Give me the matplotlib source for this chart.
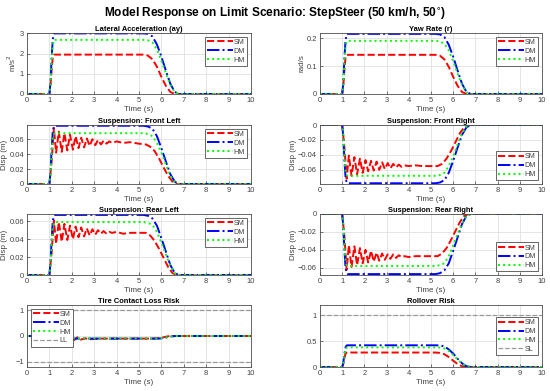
import matplotlib
matplotlib.use('Agg')
import matplotlib.pyplot as plt
from matplotlib.ticker import FuncFormatter

plt.rcParams['font.family'] = ['Liberation Sans', 'DejaVu Sans']

# time points for the smooth responses (step at 1 s, release around 5.3 s)
t_step = [0, 1.0, 1.05, 1.1, 1.15, 1.2, 1.25, 5.2, 5.4, 5.6, 5.8, 6.0, 6.2, 6.4, 6.6, 6.8, 10]

# lateral acceleration (m/s^2)
ay_dm = [0, 0, 0.6, 1.8, 2.7, 2.98, 3.0, 3.0, 2.98, 2.85, 2.45, 1.85, 1.15, 0.5, 0.1, 0, 0]
ay_hm = [0, 0, 0.55, 1.6, 2.4, 2.66, 2.68, 2.68, 2.66, 2.55, 2.2, 1.65, 1.03, 0.45, 0.09, 0, 0]
ay_sm = [0, 0, 0.45, 1.2, 1.8, 1.94, 1.95, 1.95, 1.9, 1.72, 1.35, 0.85, 0.4, 0.1, 0, 0, 0]

# yaw rate (rad/s)
r_dm = [0, 0, 0.04, 0.13, 0.19, 0.213, 0.215, 0.215, 0.213, 0.204, 0.176, 0.133, 0.083, 0.036, 0.007, 0, 0]
r_hm = [0, 0, 0.035, 0.115, 0.17, 0.188, 0.19, 0.19, 0.188, 0.18, 0.156, 0.117, 0.073, 0.032, 0.006, 0, 0]
r_sm = [0, 0, 0.03, 0.086, 0.13, 0.139, 0.14, 0.14, 0.137, 0.124, 0.097, 0.061, 0.029, 0.007, 0, 0, 0]

# suspension, smooth models (m)
fl_dm = [0, 0, 0.016, 0.047, 0.07, 0.077, 0.078, 0.078, 0.077, 0.074, 0.064, 0.048, 0.03, 0.013, 0.003, 0, 0]
fl_hm = [0, 0, 0.014, 0.041, 0.061, 0.067, 0.068, 0.068, 0.067, 0.064, 0.055, 0.042, 0.026, 0.011, 0.002, 0, 0]
fr_dm = [0, 0, -0.016, -0.047, -0.07, -0.077, -0.078, -0.078, -0.077, -0.074, -0.064, -0.048, -0.03, -0.013, -0.003, 0, 0]
fr_hm = [0, 0, -0.014, -0.041, -0.061, -0.067, -0.068, -0.068, -0.067, -0.064, -0.055, -0.042, -0.026, -0.011, -0.002, 0, 0]
rl_dm = [0, 0, 0.014, 0.04, 0.06, 0.066, 0.067, 0.067, 0.066, 0.063, 0.055, 0.041, 0.026, 0.011, 0.002, 0, 0]
rl_hm = [0, 0, 0.012, 0.035, 0.053, 0.058, 0.059, 0.059, 0.058, 0.056, 0.048, 0.036, 0.023, 0.01, 0.002, 0, 0]
rr_dm = [0, 0, -0.014, -0.04, -0.06, -0.066, -0.067, -0.067, -0.066, -0.063, -0.055, -0.041, -0.026, -0.011, -0.002, 0, 0]
rr_hm = [0, 0, -0.012, -0.035, -0.052, -0.057, -0.058, -0.058, -0.057, -0.055, -0.047, -0.035, -0.022, -0.01, -0.002, 0, 0]

# suspension, simple model (oscillating)
t_osc = [0, 1.0, 1.1, 1.2, 1.3, 1.42, 1.55, 1.67, 1.8, 1.92, 2.05, 2.17, 2.3, 2.42, 2.55, 2.67,
         2.8, 2.92, 3.05, 3.17, 3.3, 3.42, 3.55, 3.67, 3.8, 4.0, 4.3, 4.6, 5.0, 5.3, 5.5, 5.7,
         5.9, 6.1, 6.3, 6.5, 6.7, 10]
fl_sm = [0, 0, 0.03, 0.075, 0.042, 0.07, 0.043, 0.068, 0.045, 0.066, 0.046, 0.064, 0.048, 0.062,
         0.049, 0.061, 0.051, 0.06, 0.052, 0.059, 0.053, 0.058, 0.054, 0.057, 0.055, 0.057, 0.055,
         0.056, 0.054, 0.053, 0.05, 0.044, 0.034, 0.022, 0.011, 0.003, 0, 0]
fr_sm = [0, 0, -0.03, -0.072, -0.041, -0.068, -0.043, -0.066, -0.045, -0.064, -0.047, -0.062,
         -0.048, -0.061, -0.049, -0.06, -0.05, -0.059, -0.051, -0.058, -0.052, -0.057, -0.053,
         -0.056, -0.054, -0.055, -0.054, -0.055, -0.055, -0.055, -0.052, -0.045, -0.035, -0.023,
         -0.011, -0.003, 0, 0]
rl_sm = [0, 0, 0.025, 0.061, 0.035, 0.059, 0.037, 0.057, 0.039, 0.055, 0.04, 0.054, 0.042, 0.053,
         0.043, 0.052, 0.044, 0.051, 0.045, 0.05, 0.046, 0.049, 0.046, 0.048, 0.047, 0.048, 0.046,
         0.047, 0.047, 0.047, 0.044, 0.038, 0.029, 0.019, 0.009, 0.002, 0, 0]
rr_sm = [0, 0, -0.025, -0.062, -0.035, -0.059, -0.036, -0.057, -0.038, -0.055, -0.04, -0.054,
         -0.041, -0.053, -0.043, -0.052, -0.044, -0.051, -0.045, -0.05, -0.045, -0.049, -0.046,
         -0.048, -0.047, -0.048, -0.047, -0.047, -0.047, -0.047, -0.044, -0.038, -0.029, -0.019,
         -0.009, -0.002, 0, 0]

# tire contact loss risk
t_tc = [0, 1.0, 1.2, 1.35, 1.5, 1.65, 1.8, 1.95, 2.1, 2.25, 2.4, 2.6, 2.8, 3.2, 5.6, 5.9, 6.1,
        6.3, 6.5, 6.7, 10]
tc_dm = [0, 0, -0.09, -0.1, -0.1, -0.1, -0.1, -0.1, -0.1, -0.1, -0.1, -0.1, -0.1, -0.1, -0.1,
         -0.1, -0.08, -0.04, -0.01, 0, 0]
tc_hm = [0, 0, -0.08, -0.09, -0.09, -0.09, -0.09, -0.09, -0.09, -0.09, -0.09, -0.09, -0.09,
         -0.09, -0.09, -0.09, -0.07, -0.04, -0.01, 0, 0]
tc_sm = [0, 0, -0.18, -0.08, -0.2, -0.08, -0.17, -0.1, -0.16, -0.05, -0.14, -0.09, -0.13,
         -0.1, -0.1, -0.08, -0.05, -0.01, 0, 0, 0]

# rollover risk
ro_dm = [0, 0, 0.08, 0.25, 0.38, 0.417, 0.42, 0.42, 0.417, 0.4, 0.34, 0.26, 0.16, 0.07, 0.014, 0, 0]
ro_hm = [0, 0, 0.075, 0.23, 0.34, 0.377, 0.38, 0.38, 0.377, 0.36, 0.31, 0.234, 0.146, 0.064, 0.013, 0, 0]
ro_sm = [0, 0, 0.065, 0.17, 0.26, 0.278, 0.28, 0.28, 0.273, 0.247, 0.194, 0.122, 0.057, 0.014, 0, 0, 0]

c_sm = (1, 0, 0)
c_dm = (0, 0, 1)
c_hm = (0, 1, 0)
c_txt = (0.25, 0.25, 0.25)

fig = plt.figure(figsize=(5.5, 3.91), dpi=100)
fig.suptitle('Model Response on Limit Scenario: StepSteer (50 km/h, 50$^{\\circ}$)',
             fontsize=8.6, fontweight='bold', y=0.985)

xl = 27 / 550
xr = 320 / 550
wl = 224 / 550
wr = 222 / 550
rows = [(33, 94), (125, 184), (214, 275), (305, 367)]

# matlab style tick labels: 0, 0.5, 1, -0.02
fmt = FuncFormatter(lambda v, p: ('%g' % round(v, 6)).replace('-', '\u2212'))


def make_ax(col, row):
    top, bot = rows[row]
    x0 = xl if col == 0 else xr
    w = wl if col == 0 else wr
    ax = fig.add_axes([x0, 1 - bot / 391, w, (bot - top) / 391])
    ax.set_xlim(0, 10)
    ax.set_xticks(range(11))
    ax.grid(True, color=(0.88, 0.88, 0.88), linewidth=0.6)
    ax.tick_params(labelsize=5.4, direction='in', length=2, width=0.5, colors=c_txt, pad=2.2)
    ax.yaxis.set_major_formatter(fmt)
    for s in ax.spines.values():
        s.set_color((0.3, 0.3, 0.3))
        s.set_linewidth(0.6)
    ax.set_xlabel('Time (s)', fontsize=5.8, labelpad=1.5, color=c_txt)
    return ax


def draw3(ax, t1, sm, t2, dm, hm):
    ax.plot(t1, sm, '--', color=c_sm, lw=1.4, label='SM')
    ax.plot(t2, dm, '-.', color=c_dm, lw=1.4, label='DM')
    ax.plot(t2, hm, ':', color=c_hm, lw=1.4, label='HM')


def legend(ax, loc):
    lg = ax.legend(loc=loc, fontsize=5.2, handlelength=3.6, handletextpad=0.1,
                   borderpad=0.3, labelspacing=0.25, fancybox=False, framealpha=1,
                   edgecolor=(0.3, 0.3, 0.3), borderaxespad=0.5)
    lg.get_frame().set_linewidth(0.6)
    for txt in lg.get_texts():
        txt.set_color(c_txt)


def title(ax, txt):
    ax.set_title(txt, fontsize=5.4, fontweight='bold', pad=1.5)


def ylabel(ax, txt):
    ax.set_ylabel(txt, fontsize=5.8, labelpad=1, color=c_txt)


ax = make_ax(0, 0)
draw3(ax, t_step, ay_sm, t_step, ay_dm, ay_hm)
ax.set_ylim(0, 3.02)
ax.set_yticks([0, 1, 2, 3])
ylabel(ax, 'm/s$^2$')
title(ax, 'Lateral Acceleration (ay)')
legend(ax, 'upper right')

ax = make_ax(1, 0)
draw3(ax, t_step, r_sm, t_step, r_dm, r_hm)
ax.set_ylim(0, 0.218)
ax.set_yticks([0, 0.1, 0.2])
ylabel(ax, 'rad/s')
title(ax, 'Yaw Rate (r)')
legend(ax, 'upper right')

ax = make_ax(0, 1)
draw3(ax, t_osc, fl_sm, t_step, fl_dm, fl_hm)
ax.set_ylim(0, 0.079)
ax.set_yticks([0, 0.02, 0.04, 0.06])
ylabel(ax, 'Disp (m)')
title(ax, 'Suspension: Front Left')
legend(ax, 'upper right')

ax = make_ax(1, 1)
draw3(ax, t_osc, fr_sm, t_step, fr_dm, fr_hm)
ax.set_ylim(-0.079, 0)
ax.set_yticks([-0.06, -0.04, -0.02, 0])
ylabel(ax, 'Disp (m)')
title(ax, 'Suspension: Front Right')
legend(ax, 'lower right')

ax = make_ax(0, 2)
draw3(ax, t_osc, rl_sm, t_step, rl_dm, rl_hm)
ax.set_ylim(0, 0.068)
ax.set_yticks([0, 0.02, 0.04, 0.06])
ylabel(ax, 'Disp (m)')
title(ax, 'Suspension: Rear Left')
legend(ax, 'upper right')

ax = make_ax(1, 2)
draw3(ax, t_osc, rr_sm, t_step, rr_dm, rr_hm)
ax.set_ylim(-0.068, 0)
ax.set_yticks([-0.06, -0.04, -0.02, 0])
ylabel(ax, 'Disp (m)')
title(ax, 'Suspension: Rear Right')
legend(ax, 'lower right')

ax = make_ax(0, 3)
draw3(ax, t_tc, tc_sm, t_tc, tc_dm, tc_hm)
ax.axhline(1, ls='--', color=(0.6, 0.6, 0.6), lw=0.9, label='LL')
ax.axhline(-1, ls='--', color=(0.6, 0.6, 0.6), lw=0.9)
ax.set_ylim(-1.2, 1.2)
ax.set_yticks([-1, 0, 1])
title(ax, 'Tire Contact Loss Risk')
legend(ax, 'upper left')

ax = make_ax(1, 3)
draw3(ax, t_step, ro_sm, t_step, ro_dm, ro_hm)
ax.axhline(1, ls='--', color=(0.6, 0.6, 0.6), lw=0.9, label='SL')
ax.set_ylim(0, 1.2)
ax.set_yticks([0, 0.5, 1])
title(ax, 'Rollover Risk')
legend(ax, 'center right')

fig.savefig('out.png', dpi=100)
